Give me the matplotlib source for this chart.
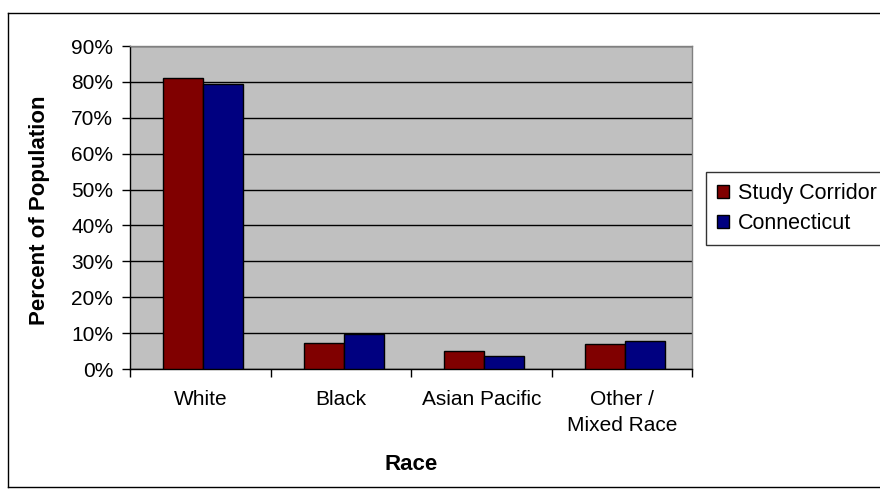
import matplotlib
matplotlib.use("Agg")
import matplotlib.pyplot as plt
import numpy as np
from matplotlib.lines import Line2D

categories = ["White", "Black", "Asian Pacific", "Other /\nMixed Race"]
study_corridor = [81.2, 7.3, 4.9, 6.9]
connecticut = [79.3, 9.7, 3.7, 7.7]
series_names = ["Study Corridor", "Connecticut"]
yticks = [0, 10, 20, 30, 40, 50, 60, 70, 80, 90]

plt.rcParams['font.family'] = ['Liberation Sans', 'DejaVu Sans']

W, H = 880, 494
fig = plt.figure(figsize=(W / 100, H / 100), dpi=100)

# plot area in pixels
left, right, top, bottom = 130, 692, 46, 369
ax = fig.add_axes([left / W, 1 - bottom / H, (right - left) / W, (bottom - top) / H])
ax.set_facecolor("#C0C0C0")

x = np.arange(len(categories))
bw = 0.285
off = 0.02
ax.bar(x + off - bw / 2, study_corridor, bw, color="#800000", edgecolor="black", linewidth=1, zorder=3, label=series_names[0])
ax.bar(x + off + bw / 2, connecticut, bw, color="#000080", edgecolor="black", linewidth=1, zorder=3, label=series_names[1])

ax.set_xlim(-0.5, len(categories) - 0.5)
ax.set_ylim(0, 90)
ax.set_yticks(yticks)
ax.set_yticklabels([f"{v}%" for v in yticks], fontsize=15)
ax.yaxis.grid(True, color="black", linewidth=1, zorder=1)
ax.set_axisbelow(True)

ax.set_xticks(x)
ax.set_xticklabels(categories, fontsize=15, linespacing=1.45, va="top")
ax.tick_params(axis="x", length=0, pad=15)
ax.set_xticks(np.arange(len(categories) + 1) - 0.5, minor=True)
ax.tick_params(axis="x", which="minor", length=6, width=1, color="black", direction="out")
ax.tick_params(axis="y", length=6, width=1, color="black", direction="out", pad=6)

for side in ["top", "right"]:
    ax.spines[side].set_color("#808080")
    ax.spines[side].set_linewidth(1)
for side in ["left", "bottom"]:
    ax.spines[side].set_color("black")
    ax.spines[side].set_linewidth(1)

fig.text(40 / W, 1 - 210 / H, "Percent of Population", rotation=90, fontsize=16,
         fontweight="bold", ha="center", va="center")
fig.text(411 / W, 1 - 465 / H, "Race", fontsize=16, fontweight="bold",
         ha="center", va="center")

leg = fig.legend(loc="upper left", bbox_to_anchor=(706 / W, 1 - 172 / H), fontsize=15.5,
                 frameon=True, fancybox=False, edgecolor="black", handlelength=0.55,
                 handleheight=0.55, handletextpad=0.45, borderpad=0.5, labelspacing=0.45,
                 borderaxespad=0)
leg.get_frame().set_linewidth(1)

# outer chart border
fig.add_artist(Line2D([8 / W, 8 / W], [1 - 13 / H, 1 - 487 / H], color="black", lw=1))
fig.add_artist(Line2D([8 / W, 1], [1 - 13 / H, 1 - 13 / H], color="black", lw=1))
fig.add_artist(Line2D([8 / W, 1], [1 - 487 / H, 1 - 487 / H], color="black", lw=1))

fig.savefig("out.png", dpi=100, facecolor="white")
